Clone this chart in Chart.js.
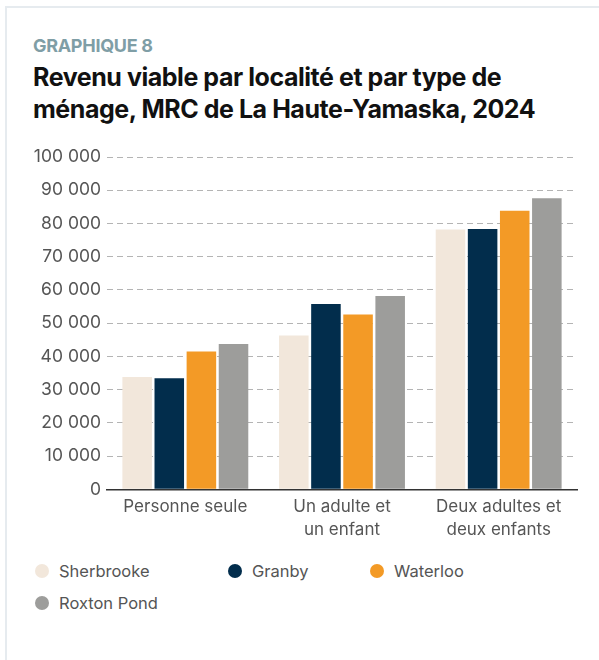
<!DOCTYPE html>
<html>
<head>
<meta charset="utf-8">
<script src="https://cdn.jsdelivr.net/npm/chart.js@4/dist/chart.umd.min.js"></script>
<style>
  html, body { margin: 0; padding: 0; background: #fff; }
  body { width: 599px; height: 660px; position: relative; overflow: hidden; font-family: Inter, "Noto Sans", sans-serif; }
  #card { position: absolute; left: 5px; top: 6px; width: 640px; height: 700px; border-top: 2.5px solid #e6ebef; border-left: 2.5px solid #e6ebef; }
  #kicker { position: absolute; left: 33px; top: 35px; font-size: 18px; font-weight: 700; color: #7f9ea6; letter-spacing: -0.3px; }
  #title { position: absolute; left: 33px; top: 61px; font-size: 25px; font-weight: 700; color: #111; line-height: 32px; letter-spacing: -0.45px; }
  #wrap { position: absolute; left: 0; top: 130px; width: 599px; height: 420px; }
  #legend { position: absolute; left: 0; top: 560px; width: 599px; font-size: 16.5px; color: #555; }
  .item { position: absolute; display: flex; align-items: center; }
  .dot { width: 14px; height: 14px; border-radius: 50%; margin-right: 10px; }
</style>
</head>
<body>
<div id="card"></div>
<div id="kicker">GRAPHIQUE 8</div>
<div id="title">Revenu viable par localité et par type de<br>ménage, MRC de La Haute-Yamaska, 2024</div>
<div id="wrap"><canvas id="c" width="599" height="420"></canvas></div>
<div id="legend"></div>
<script>
const categories = [["Personne seule"], ["Un adulte et", "un enfant"], ["Deux adultes et", "deux enfants"]];
const seriesNames = ["Sherbrooke", "Granby", "Waterloo", "Roxton Pond"];
const sherbrooke = [33800, 46300, 78200];
const granby = [33400, 55800, 78300];
const waterloo = [41500, 52600, 83800];
const roxtonPond = [43700, 58200, 87600];
const colors = ["#f2e7db", "#022d4c", "#f39a26", "#9d9d9b"];
const yTicks = [0, 10000, 20000, 30000, 40000, 50000, 60000, 70000, 80000, 90000, 100000];

const values = [sherbrooke, granby, waterloo, roxtonPond];
const fmt = v => String(v).replace(/\B(?=(\d{3})+(?!\d))/g, " ");

new Chart(document.getElementById("c"), {
  type: "bar",
  data: {
    labels: categories,
    datasets: seriesNames.map((n, i) => ({
      label: n,
      data: values[i],
      backgroundColor: colors[i],
      borderWidth: 0,
      barPercentage: 0.92,
      categoryPercentage: 0.82
    }))
  },
  options: {
    responsive: false,
    animation: false,
    layout: { padding: { left: 0, right: 22, top: 27, bottom: 0 } },
    plugins: { legend: { display: false }, tooltip: { enabled: false } },
    scales: {
      x: {
        grid: { display: false, drawTicks: false },
        border: { display: true, color: "#333", width: 1.5 },
        ticks: { color: "#555", font: { family: "Inter", size: 17, lineHeight: 1.3 }, padding: 7, maxRotation: 0 },
        afterFit: s => { s.height = 60.7; }
      },
      y: {
        min: 0, max: 100000,
        afterBuildTicks: s => { s.ticks = yTicks.map(v => ({ value: v })); },
        grid: { color: c => c.tick && c.tick.value === 0 ? "rgba(0,0,0,0)" : "#b4b4b4", lineWidth: 1, drawTicks: false },
        border: { display: false, dash: [6, 4] },
        ticks: { color: "#555", font: { family: "Inter", size: 17.5 }, padding: 6, callback: v => fmt(v) },
        afterFit: s => { s.width = 107; }
      }
    }
  }
});

const legend = document.getElementById("legend");
const lx = [35, 228, 370, 35];
const ly = [1, 1, 1, 33];
seriesNames.forEach((n, i) => {
  const d = document.createElement("div");
  d.className = "item";
  d.style.left = lx[i] + "px";
  d.style.top = ly[i] + "px";
  d.innerHTML = '<span class="dot" style="background:' + colors[i] + '"></span><span>' + n + '</span>';
  legend.appendChild(d);
});
</script>
</body>
</html>
